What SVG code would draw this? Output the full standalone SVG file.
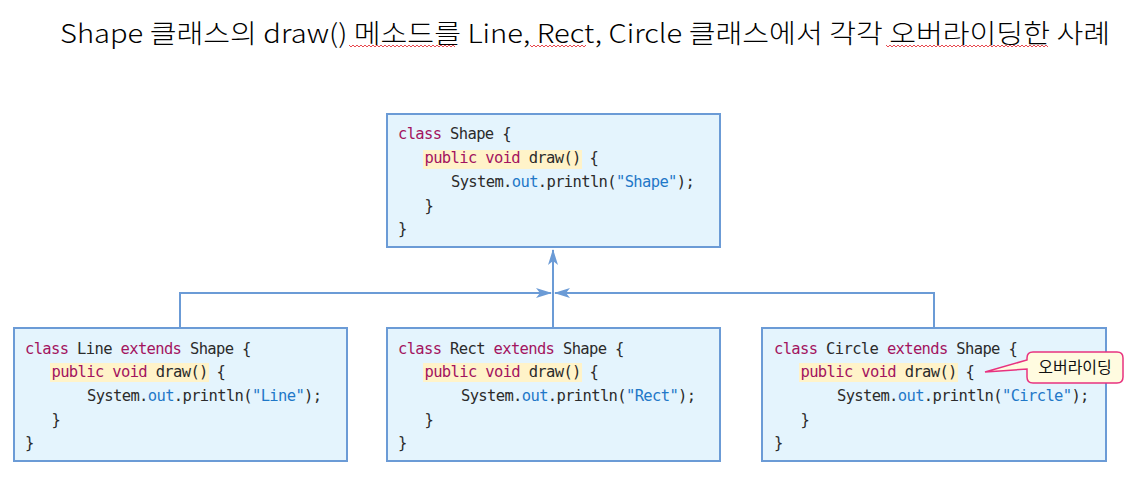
<svg xmlns="http://www.w3.org/2000/svg" width="1127" height="503" viewBox="0 0 1127 503">
<defs>
<style>
.box{fill:#e4f4fd;stroke:#6b9bd6;stroke-width:2}
.code{font-family:"DejaVu Sans Mono","Liberation Mono",monospace;font-size:15.5px;letter-spacing:-0.65px;fill:#2b2b2b}
.kw{fill:#a3145f}
.bl{fill:#1f78c8}
.hl{fill:#fff3c9}
.conn{fill:none;stroke:#6b9bd6;stroke-width:2}
.sq{fill:none;stroke:#e8494f;stroke-width:1}
</style>
<marker id="arr" viewBox="0 0 16 10" refX="15" refY="5" markerWidth="16" markerHeight="10" markerUnits="userSpaceOnUse" orient="auto">
<path d="M0,0 L16,5 L0,10 L4,5 Z" fill="#6b9bd6"/>
</marker>
</defs>
<rect width="1127" height="503" fill="#ffffff"/>
<g id="title">
<text x="60" y="43" font-family="'Noto Sans CJK KR','Noto Sans',sans-serif" font-size="26" font-weight="300" fill="#000" textLength="1050" lengthAdjust="spacingAndGlyphs">Shape 클래스의 draw() 메소드를 Line, Rect, Circle 클래스에서 각각 오버라이딩한 사례</text>
<path class="sq" d="M349,45 l2,2 l2,-2 l2,2 l2,-2 l2,2 l2,-2 l2,2 l2,-2 l2,2 l2,-2 l2,2 l2,-2 l2,2 l2,-2 l2,2 l2,-2 l2,2 l2,-2 l2,2 l2,-2 l2,2 l2,-2 l2,2 l2,-2 l2,2 l2,-2 l2,2 l2,-2 l2,2 l2,-2 l2,2 l2,-2 l2,2 l2,-2 l2,2 l2,-2 l2,2 l2,-2 l2,2 l2,-2 l2,2 l2,-2 l2,2 l2,-2 l2,2 l2,-2 l2,2 l2,-2 l2,2 l2,-2 l2,2 l2,-2 l2,2"/>
<path class="sq" d="M530,45 l2,2 l2,-2 l2,2 l2,-2 l2,2 l2,-2 l2,2 l2,-2 l2,2 l2,-2 l2,2 l2,-2 l2,2 l2,-2 l2,2 l2,-2 l2,2 l2,-2 l2,2 l2,-2 l2,2 l2,-2 l2,2 l2,-2 l2,2 l2,-2 l2,2 l2,-2"/>
<path class="sq" d="M886,45 l2,2 l2,-2 l2,2 l2,-2 l2,2 l2,-2 l2,2 l2,-2 l2,2 l2,-2 l2,2 l2,-2 l2,2 l2,-2 l2,2 l2,-2 l2,2 l2,-2 l2,2 l2,-2 l2,2 l2,-2 l2,2 l2,-2 l2,2 l2,-2 l2,2 l2,-2 l2,2 l2,-2 l2,2 l2,-2 l2,2 l2,-2 l2,2 l2,-2 l2,2 l2,-2 l2,2 l2,-2 l2,2 l2,-2 l2,2 l2,-2 l2,2 l2,-2 l2,2 l2,-2 l2,2 l2,-2 l2,2 l2,-2 l2,2 l2,-2 l2,2 l2,-2 l2,2 l2,-2 l2,2 l2,-2 l2,2 l2,-2 l2,2 l2,-2 l2,2 l2,-2 l2,2 l2,-2 l2,2 l2,-2 l2,2 l2,-2 l2,2 l2,-2 l2,2 l2,-2 l2,2 l2,-2 l2,2 l2,-2 l2,2"/>
</g>
<g id="connectors">
<path class="conn" d="M553,328 L553,250" marker-end="url(#arr)"/>
<path class="conn" d="M180,328 L180,293 L551,293" marker-end="url(#arr)"/>
<path class="conn" d="M934,328 L934,293 L555,293" marker-end="url(#arr)"/>
</g>
<g id="shape">
<rect class="box" x="387" y="114" width="333" height="133"/>
<rect class="hl" x="423" y="150" width="159" height="19"/>
<text class="code" x="398" y="139"><tspan class="kw">class</tspan> Shape {</text>
<text class="code" x="424.5" y="163"><tspan class="kw">public void</tspan> draw() {</text>
<text class="code" x="451" y="187">System.<tspan class="bl">out</tspan>.println(<tspan class="bl">"Shape"</tspan>);</text>
<text class="code" x="424.5" y="211">}</text>
<text class="code" x="398" y="234">}</text>
</g>
<g id="line">
<rect class="box" x="14" y="328" width="333" height="133"/>
<rect class="hl" x="50" y="363" width="159" height="19"/>
<text class="code" x="25" y="354"><tspan class="kw">class</tspan> Line <tspan class="kw">extends</tspan> Shape {</text>
<text class="code" x="51.5" y="377"><tspan class="kw">public void</tspan> draw() {</text>
<text class="code" x="87" y="401">System.<tspan class="bl">out</tspan>.println(<tspan class="bl">"Line"</tspan>);</text>
<text class="code" x="51.5" y="424.5">}</text>
<text class="code" x="25" y="448">}</text>
</g>
<g id="rect">
<rect class="box" x="387" y="328" width="333" height="133"/>
<rect class="hl" x="423" y="363" width="159" height="19"/>
<text class="code" x="398" y="354"><tspan class="kw">class</tspan> Rect <tspan class="kw">extends</tspan> Shape {</text>
<text class="code" x="424.5" y="377"><tspan class="kw">public void</tspan> draw() {</text>
<text class="code" x="461" y="401">System.<tspan class="bl">out</tspan>.println(<tspan class="bl">"Rect"</tspan>);</text>
<text class="code" x="424.5" y="424.5">}</text>
<text class="code" x="398" y="448">}</text>
</g>
<g id="circle">
<rect class="box" x="762" y="328" width="344" height="133"/>
<rect class="hl" x="799" y="363" width="159" height="19"/>
<text class="code" x="774" y="354"><tspan class="kw">class</tspan> Circle <tspan class="kw">extends</tspan> Shape {</text>
<text class="code" x="800.5" y="377"><tspan class="kw">public void</tspan> draw() {</text>
<text class="code" x="837" y="401">System.<tspan class="bl">out</tspan>.println(<tspan class="bl">"Circle"</tspan>);</text>
<text class="code" x="800.5" y="424.5">}</text>
<text class="code" x="774" y="448">}</text>
</g>
<g id="callout">
<path d="M1033,352 H1117 Q1123,352 1123,358 V377 Q1123,383 1117,383 H1033 Q1027,383 1027,377 V369 L985,372 L1027,360 V358 Q1027,352 1033,352 Z" fill="#fffbe0" stroke="#e8327f" stroke-width="1.5"/>
<text x="1075" y="373" text-anchor="middle" font-family="'Noto Sans CJK KR',sans-serif" font-size="16" fill="#111">오버라이딩</text>
</g>
</svg>
